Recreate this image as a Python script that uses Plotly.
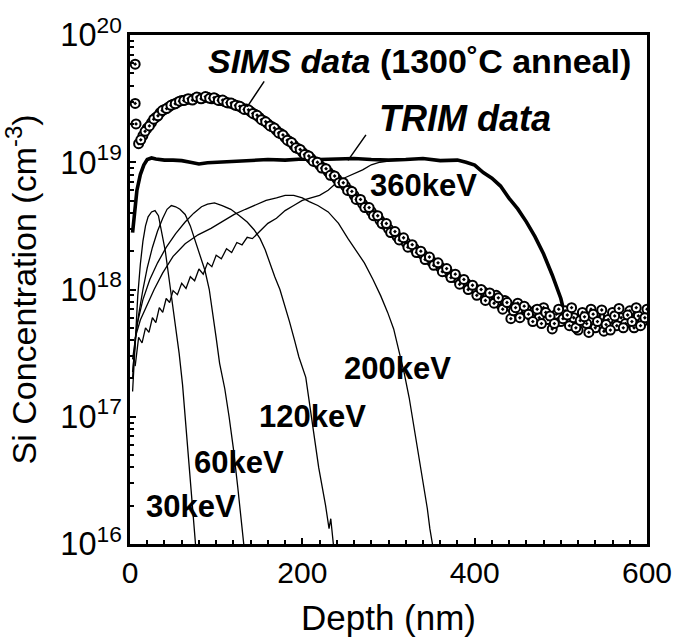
import plotly.graph_objects as go

# ---- SIMS profile after 1300 C anneal (depth in nm, concentration in cm^-3) ----
sims_depth = [6, 6, 7,
              10, 15, 20, 25, 30, 35, 40, 45, 50, 55, 60, 65, 70, 75, 80, 85, 90, 95,
              100, 105, 110, 115, 120, 125, 130, 135, 140, 145, 150, 155, 160, 165, 170, 175,
              180, 185, 190, 195, 200, 205, 210, 215, 220, 225, 230, 235, 240, 245, 250,
              255, 260, 265, 270, 275, 280, 285, 290, 295, 300, 305, 310, 315, 320, 325,
              330, 335, 340, 345, 350, 355, 360, 365, 370, 375, 380, 385, 390, 395, 400,
              405, 410, 415, 420, 425, 430, 435, 440, 442, 445, 450, 455, 460, 465, 470,
              475, 480, 485, 490, 495, 500, 505, 510, 515, 520, 525, 530, 535, 540, 545,
              550, 555, 560, 565, 570, 575, 580, 585, 590, 595, 600]
sims_conc = [5.9e19, 2.9e19, 2.0e19,
             1.40e19, 1.62e19, 1.85e19, 2.05e19, 2.25e19, 2.45e19, 2.60e19, 2.72e19, 2.85e19,
             2.95e19, 3.05e19, 3.10e19, 3.12e19, 3.18e19, 3.22e19, 3.20e19, 3.24e19, 3.15e19,
             3.14e19, 3.05e19, 3.00e19, 2.92e19, 2.86e19, 2.78e19, 2.68e19, 2.62e19, 2.50e19,
             2.38e19, 2.25e19, 2.12e19, 2.00e19, 1.90e19, 1.78e19, 1.68e19,
             1.56e19, 1.46e19, 1.36e19, 1.28e19, 1.20e19, 1.14e19, 1.07e19, 1.01e19, 9.5e18,
             9.0e18, 8.4e18, 7.9e18, 7.4e18, 6.9e18, 6.5e18,
             6.0e18, 5.5e18, 5.1e18, 4.7e18, 4.4e18, 4.1e18, 3.8e18, 3.5e18, 3.25e18, 3.0e18,
             2.8e18, 2.6e18, 2.5e18, 2.35e18, 2.2e18,
             2.1e18, 1.95e18, 1.88e18, 1.75e18, 1.66e18, 1.58e18, 1.50e18, 1.40e18, 1.34e18,
             1.25e18, 1.22e18, 1.12e18, 1.12e18, 1.02e18, 1.02e18,
             9.2e17, 9.6e17, 8.8e17, 8.4e17, 9.0e17, 7.6e17, 8.2e17, 7.4e17, 5.9e17, 6.8e17,
             7.8e17, 6.6e17, 7.0e17, 6.2e17, 6.8e17,
             6.0e17, 7.2e17, 5.8e17, 4.9e17, 6.4e17, 5.6e17, 6.8e17, 5.2e17, 6.0e17, 4.8e17,
             6.6e17, 5.4e17, 7.0e17, 5.0e17, 6.2e17,
             4.7e17, 5.8e17, 6.6e17, 5.2e17, 6.0e17, 5.4e17, 6.8e17, 5.0e17, 6.2e17, 5.6e17, 7.0e17]

# second SIMS scan, sampled between the points above
sims2_depth = [12.5, 17.5, 22.5, 27.5, 32.5, 37.5, 42.5, 47.5, 52.5, 57.5, 62.5, 67.5, 72.5,
               77.5, 82.5, 87.5, 92.5, 97.5, 102.5, 107.5, 112.5, 117.5, 122.5, 127.5, 132.5,
               137.5, 142.5, 147.5, 152.5, 157.5, 162.5, 167.5, 172.5, 177.5, 182.5, 187.5,
               192.5, 197.5, 202.5, 207.5, 212.5, 217.5, 222.5, 227.5, 232.5, 237.5, 242.5,
               247.5, 252.5, 257.5, 262.5, 267.5, 272.5, 277.5, 282.5, 287.5, 292.5, 297.5,
               302.5, 307.5, 312.5, 317.5, 322.5, 327.5, 332.5, 337.5, 342.5, 347.5, 352.5,
               357.5, 362.5, 367.5, 372.5, 377.5, 382.5, 387.5, 392.5, 397.5, 402.5, 407.5,
               412.5, 417.5, 422.5, 427.5, 432.5, 437.5, 447.5, 452.5, 457.5, 462.5, 467.5,
               472.5, 477.5, 482.5, 487.5, 492.5, 497.5, 502.5, 507.5, 512.5, 517.5, 522.5,
               527.5, 532.5, 537.5, 542.5, 547.5, 552.5, 557.5, 562.5, 567.5, 572.5, 577.5,
               582.5, 587.5, 592.5, 597.5]
sims2_conc = [1.50e19, 1.75e19, 1.93e19, 2.18e19, 2.32e19, 2.55e19, 2.64e19, 2.80e19, 2.88e19,
              3.02e19, 3.05e19, 3.16e19, 3.08e19, 3.25e19, 3.15e19, 3.28e19, 3.18e19, 3.22e19,
              3.06e19, 3.08e19, 2.94e19, 2.92e19, 2.80e19, 2.75e19, 2.60e19, 2.58e19, 2.42e19,
              2.34e19, 2.16e19, 2.08e19, 1.93e19, 1.86e19, 1.70e19, 1.64e19, 1.49e19, 1.43e19,
              1.30e19, 1.26e19, 1.15e19, 1.12e19, 1.02e19, 1.00e19, 9.0e18, 8.9e18, 7.9e18,
              7.8e18, 6.9e18, 6.9e18, 6.0e18, 5.9e18, 5.1e18, 5.1e18, 4.4e18, 4.4e18, 3.8e18,
              3.8e18, 3.3e18, 3.3e18, 2.8e18, 2.85e18, 2.45e18, 2.55e18, 2.15e18, 2.25e18,
              1.95e18, 2.0e18, 1.72e18, 1.80e18, 1.55e18, 1.62e18, 1.38e18, 1.46e18, 1.24e18,
              1.32e18, 1.10e18, 1.20e18, 1.0e18, 1.08e18, 9.0e17, 1.0e18, 8.2e17, 9.4e17,
              7.8e17, 8.6e17, 7.0e17, 7.9e17, 7.2e17, 6.0e17, 7.4e17, 6.4e17, 5.6e17, 7.0e17,
              5.4e17, 6.6e17, 6.2e17, 5.4e17, 7.0e17, 5.9e17, 6.3e17, 7.2e17, 5.0e17, 5.7e17,
              6.1e17, 4.6e17, 6.4e17, 5.6e17, 6.9e17, 5.3e17, 4.8e17, 6.2e17, 7.1e17, 5.0e17,
              6.3e17, 5.6e17, 7.2e17, 5.2e17, 6.0e17]

# ---- TRIM summed profile ----
trim_depth = [3, 5, 8, 12, 16, 20, 25, 30, 40, 50, 60, 70, 80, 90, 100, 110, 120, 140, 160,
              180, 200, 220, 240, 260, 280, 300, 320, 340, 360, 380, 390, 400, 410, 420, 430,
              440, 450, 460, 470, 480, 490, 500, 503]
trim_conc = [2.8e18, 4.0e18, 6.0e18, 8.0e18, 9.5e18, 1.05e19, 1.08e19, 1.06e19, 1.04e19,
             1.04e19, 1.03e19, 1.00e19, 0.97e19, 0.99e19, 1.00e19, 1.01e19, 1.02e19, 1.04e19,
             1.05e19, 1.04e19, 1.06e19, 1.05e19, 1.06e19, 1.07e19, 1.05e19, 1.04e19, 1.05e19,
             1.07e19, 1.03e19, 1.04e19, 1.0e19, 9.5e18, 8.3e18, 7.5e18, 6.5e18, 5.2e18, 4.3e18,
             3.4e18, 2.6e18, 1.9e18, 1.3e18, 8.5e17, 7.0e17]

# ---- individual implant energies (TRIM) ----
d30 = [3, 6, 9, 12, 15, 18, 21, 25, 29, 33, 37, 41, 45, 49, 53, 57, 61, 65, 69, 73, 76]
c30 = [1.58e17, 4.17e17, 8.91e17, 1.58e18, 2.4e18, 3.16e18, 3.72e18, 4.07e18, 4.17e18,
       3.8e18, 2.82e18, 2.0e18, 1.26e18, 7.94e17, 5.01e17, 3.16e17, 1.78e17, 7.94e16,
       3.55e16, 1.78e16, 1.0e16]

d60 = [3, 6, 10, 15, 20, 26, 32, 38, 43, 48, 53, 58, 64, 70, 76, 82, 87, 92, 96, 100,
       104, 110, 115, 120, 125, 129, 132]
c60 = [2.82e17, 3.98e17, 6.31e17, 1.0e18, 1.48e18, 2.14e18, 2.88e18, 3.63e18, 4.27e18,
       4.57e18, 4.47e18, 4.27e18, 3.89e18, 3.16e18, 2.4e18, 1.82e18, 1.41e18, 1.0e18,
       6.61e17, 4.17e17, 2.63e17, 1.66e17, 1.0e17, 5.62e16, 2.82e16, 1.58e16, 1.0e16]

d120 = [3, 8, 15, 23, 32, 42, 53, 64, 74, 83, 90, 98, 107, 117, 127, 136, 144, 151, 157,
        162, 168, 174, 180, 185, 191, 196, 204, 212, 219, 227, 231, 233, 236]
c120 = [2.24e17, 5.25e17, 8.32e17, 1.2e18, 1.62e18, 2.14e18, 2.75e18, 3.39e18, 3.98e18,
        4.47e18, 4.68e18, 4.79e18, 4.57e18, 4.27e18, 3.8e18, 3.39e18, 2.95e18, 2.51e18,
        2.04e18, 1.62e18, 1.26e18, 1.0e18, 7.41e17, 5.62e17, 3.98e17, 2.95e17, 2.04e17,
        8.51e16, 3.98e16, 2.0e16, 1.32e16, 1.58e16, 1.0e16]

d200 = [3, 6, 12, 19, 28, 38, 50, 64, 79, 94, 108, 121, 134, 147, 158, 170, 180, 190, 200,
        208, 218, 230, 242, 253, 262, 272, 282, 291, 299, 306, 312, 318, 324, 330, 336, 341,
        345, 348, 351]
c200 = [2.0e17, 4.17e17, 5.75e17, 7.41e17, 1.0e18, 1.35e18, 1.82e18, 2.29e18, 2.69e18,
        3.02e18, 3.47e18, 3.89e18, 4.27e18, 4.68e18, 5.01e18, 5.25e18, 5.5e18, 5.5e18,
        5.25e18, 4.9e18, 4.57e18, 4.07e18, 3.31e18, 2.51e18, 2.04e18, 1.62e18, 1.2e18,
        8.91e17, 6.61e17, 4.9e17, 3.31e17, 2.24e17, 1.41e17, 7.94e16, 4.47e16, 2.82e16,
        1.91e16, 1.32e16, 1.0e16]

d360 = [6, 10, 14, 18, 22, 26, 30, 34, 38, 42, 46, 50, 55, 60, 65, 70, 75, 80, 85, 90, 95,
        100, 106, 112, 118, 124, 130, 136, 142, 150, 160, 170, 180, 190, 200, 210, 220, 230,
        240, 250, 260, 270, 280, 290, 300]
c360 = [2.5e17, 4.2e17, 3.8e17, 5.0e17, 4.6e17, 6.0e17, 5.5e17, 7.2e17, 6.6e17, 8.5e17,
        7.9e17, 9.8e17, 9.1e17, 1.12e18, 1.02e18, 1.26e18, 1.17e18, 1.45e18, 1.32e18,
        1.62e18, 1.51e18, 1.86e18, 1.74e18, 2.09e18, 1.95e18, 2.34e18, 2.24e18, 2.57e18,
        2.51e18, 2.82e18, 3.31e18, 3.63e18, 4.17e18, 4.57e18, 5.01e18, 5.25e18, 5.5e18,
        6.03e18, 6.92e18, 7.59e18, 8.13e18, 8.71e18, 9.55e18, 1.0e19, 1.02e19]

energy_labels = ["30keV", "60keV", "120keV", "200keV", "360keV"]

FONT = "Liberation Sans, Arial, Helvetica, sans-serif"

fig = go.Figure()

for d, c in [(d30, c30), (d60, c60), (d120, c120), (d200, c200), (d360, c360)]:
    fig.add_trace(go.Scatter(x=d, y=c, mode="lines",
                             line=dict(color="black", width=1.3), hoverinfo="skip"))

fig.add_trace(go.Scatter(x=trim_depth, y=trim_conc, mode="lines",
                         line=dict(color="black", width=3.6), hoverinfo="skip"))

fig.add_trace(go.Scatter(x=sims_depth + sims2_depth, y=sims_conc + sims2_conc,
                         mode="markers",
                         marker=dict(symbol="circle-dot", size=9, color="white",
                                     line=dict(color="black", width=2)),
                         hoverinfo="skip"))

# paper-space positions for the energy labels (left edge, vertical centre)
label_pos = {"30keV": (0.028, 0.073), "60keV": (0.119, 0.160), "120keV": (0.246, 0.250),
             "200keV": (0.410, 0.345), "360keV": (0.460, 0.704)}

ann = []
for lab in energy_labels:
    px, py = label_pos[lab]
    ann.append(dict(x=px, y=py, xref="paper", yref="paper", text="<b>" + lab + "</b>",
                    showarrow=False, xanchor="left", yanchor="middle",
                    font=dict(family=FONT, size=31, color="black")))

ann.append(dict(x=0.147, y=0.948, xref="paper", yref="paper",
                text="<b><i>SIMS data</i> (1300˚C anneal)</b>", showarrow=False,
                xanchor="left", yanchor="middle",
                font=dict(family=FONT, size=34, color="black")))
ann.append(dict(x=0.478, y=0.835, xref="paper", yref="paper",
                text="<b><i>TRIM data</i></b>", showarrow=False,
                xanchor="left", yanchor="middle",
                font=dict(family=FONT, size=36, color="black")))

# leader lines from the labels to the curves
ann.append(dict(x=136, y=19.435, xref="x", yref="y", text="", showarrow=True,
                arrowhead=0, arrowwidth=1.5, arrowcolor="black", ax=18, ay=-27,
                standoff=0, startstandoff=0))
ann.append(dict(x=253, y=19.015, xref="x", yref="y", text="", showarrow=True,
                arrowhead=0, arrowwidth=1.5, arrowcolor="black", ax=19, ay=-27,
                standoff=0, startstandoff=0))

fig.update_layout(
    width=684, height=644,
    margin=dict(l=130, r=25, t=28, b=92),
    paper_bgcolor="white", plot_bgcolor="white",
    showlegend=False,
    font=dict(family=FONT, color="black"),
    annotations=ann,
)

fig.update_xaxes(
    range=[0, 600], dtick=200, tick0=0,
    showgrid=False, zeroline=False,
    showline=True, linecolor="black", linewidth=3, mirror=True,
    ticks="inside", ticklen=6, tickwidth=2, tickcolor="black",
    minor=dict(dtick=20, ticks="inside", ticklen=4, tickwidth=2, tickcolor="black"),
    tickfont=dict(family=FONT, size=30, color="black"),
    ticklabeloverflow="allow",
    title=dict(text="Depth (nm)", font=dict(family=FONT, size=35, color="black"), standoff=18),
)

fig.update_yaxes(
    type="log", range=[16, 20], dtick=1,
    exponentformat="power",
    showgrid=False, zeroline=False,
    showline=True, linecolor="black", linewidth=3, mirror=True,
    ticks="inside", ticklen=6, tickwidth=2, tickcolor="black",
    minor=dict(dtick="D1", ticks="inside", ticklen=4, tickwidth=2, tickcolor="black"),
    tickfont=dict(family=FONT, size=26, color="black"),
    title=dict(text="Si Concentration (cm<sup>-3</sup>)",
               font=dict(family=FONT, size=34, color="black"), standoff=14),
)

fig.write_html("out.html")
